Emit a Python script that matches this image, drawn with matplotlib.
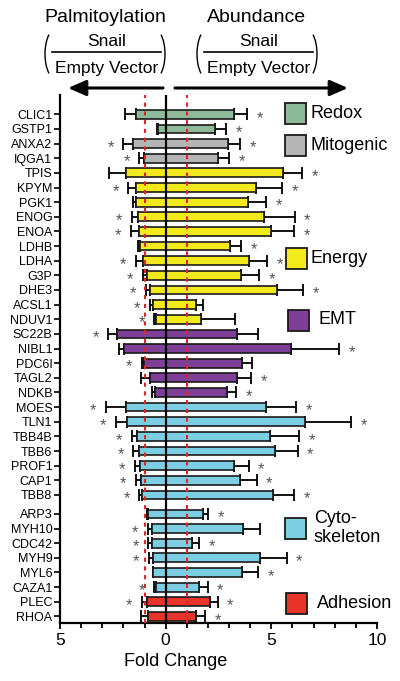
import matplotlib
matplotlib.use("Agg")
import matplotlib.pyplot as plt
from matplotlib.patches import Rectangle, Arc, FancyArrowPatch
from matplotlib.lines import Line2D
import numpy as np

plt.rcParams['font.family'] = ['Liberation Sans', 'DejaVu Sans']

# ---------------- data ----------------
proteins = ["CLIC1", "GSTP1", "ANXA2", "IQGA1", "TPIS", "KPYM", "PGK1", "ENOG", "ENOA", "LDHB",
            "LDHA", "G3P", "DHE3", "ACSL1", "NDUV1", "SC22B", "NIBL1", "PDC6I", "TAGL2", "NDKB",
            "MOES", "TLN1", "TBB4B", "TBB6", "PROF1", "CAP1", "TBB8", "ARP3", "MYH10", "CDC42",
            "MYH9", "MYL6", "CAZA1", "PLEC", "RHOA"]
categories = ["Redox"] * 2 + ["Mitogenic"] * 2 + ["Energy"] * 11 + ["EMT"] * 5 + \
             ["Cytoskeleton"] * 13 + ["Adhesion"] * 2

palm = [1.39, 0.35, 1.53, 1.03, 1.88, 1.39, 1.39, 1.31, 1.25, 1.22,
        1.09, 0.90, 0.74, 0.62, 0.46, 2.32, 1.98, 1.03, 0.74, 0.51,
        1.86, 1.82, 1.35, 1.25, 1.22, 1.18, 1.14, 0.82, 0.66, 0.66,
        0.62, 0.59, 0.44, 0.90, 0.85]
palm_err = [0.54, 0.05, 0.47, 0.22, 0.79, 0.38, 0.17, 0.30, 0.39, 0.11,
            0.32, 0.19, 0.21, 0.12, 0.08, 0.40, 0.22, 0.11, 0.43, 0.16,
            0.97, 0.54, 0.26, 0.28, 0.23, 0.23, 0.11, 0.05, 0.19, 0.16,
            0.17, 0.00, 0.10, 0.24, 0.32]
palm_sig = [0, 0, 1, 1, 0, 1, 0, 1, 1, 0,
            1, 1, 1, 1, 1, 1, 0, 1, 0, 0,
            1, 1, 1, 1, 1, 1, 1, 0, 1, 1,
            1, 0, 1, 1, 0]

abund = [3.25, 2.35, 2.94, 2.46, 5.55, 4.27, 3.89, 4.63, 4.99, 3.05,
         3.92, 3.55, 5.26, 1.44, 1.66, 3.36, 5.92, 3.60, 3.36, 2.89,
         4.75, 6.60, 4.96, 5.15, 3.25, 3.52, 5.07, 1.78, 3.64, 1.26,
         4.46, 3.63, 1.58, 2.10, 1.45]
abund_err = [0.62, 0.51, 0.58, 0.55, 0.90, 1.23, 0.86, 1.47, 1.09, 0.52,
             0.87, 0.89, 1.26, 0.34, 1.62, 1.03, 2.29, 0.50, 0.67, 0.43,
             1.42, 2.17, 1.36, 1.09, 0.67, 0.78, 1.01, 0.24, 0.82, 0.32,
             1.26, 0.76, 0.41, 0.36, 0.41]
abund_sig = [1, 1, 1, 1, 1, 1, 1, 1, 1, 1,
             1, 1, 1, 0, 0, 0, 1, 0, 1, 1,
             1, 1, 1, 1, 1, 1, 1, 1, 0, 1,
             1, 1, 1, 1, 1]

colors = {"Redox": "#8dbb99", "Mitogenic": "#b5b5b5", "Energy": "#f3ea1c",
          "EMT": "#7d3f97", "Cytoskeleton": "#7ccfe2", "Adhesion": "#e8332b"}
legend_labels = ["Redox", "Mitogenic", "Energy", "EMT", "Cyto-\nskeleton", "Adhesion"]
legend_keys = ["Redox", "Mitogenic", "Energy", "EMT", "Cytoskeleton", "Adhesion"]

xticks = [-5, 0, 5, 10]
xticklabels = ["5", "0", "5", "10"]

# ---------------- figure ----------------
W, H = 400, 681
fig = plt.figure(figsize=(W / 100, H / 100), dpi=100)
fx = lambda px: px / W
fy = lambda py: 1 - py / H
ax = fig.add_axes([fx(60), fy(623), (377 - 60) / W, (623 - 95) / H])

n = len(proteins)
gap_after = proteins.index("TBB8")
ypos = np.array([i + (0.3 if i > gap_after else 0.0) for i in range(n)])
bar_h = 0.6
edge = "#1a1a1a"

for i in range(n):
    c = colors[categories[i]]
    y = ypos[i]
    ax.barh(y, -palm[i], height=bar_h, left=0, color=c, edgecolor=edge, linewidth=1.2, zorder=2)
    ax.barh(y, abund[i], height=bar_h, left=0, color=c, edgecolor=edge, linewidth=1.2, zorder=2)
    ax.errorbar(-palm[i], y, xerr=[[palm_err[i]], [0]], fmt='none', ecolor='black',
                elinewidth=1.3, capsize=4, capthick=1.3, zorder=1.5)
    ax.errorbar(abund[i], y, xerr=[[0], [abund_err[i]]], fmt='none', ecolor='black',
                elinewidth=1.3, capsize=4, capthick=1.3, zorder=1.5)
    if palm_sig[i]:
        ax.annotate("*", (-(palm[i] + palm_err[i]) - 0.6, y), xytext=(0, -6),
                    textcoords='offset points', ha='center', va='baseline',
                    fontsize=12, color='#555555', zorder=5)
    if abund_sig[i]:
        ax.annotate("*", (abund[i] + abund_err[i] + 0.6, y), xytext=(0, -6),
                    textcoords='offset points', ha='center', va='baseline',
                    fontsize=12, color='#555555', zorder=5)

ax.axvline(0, color='black', lw=1.6, zorder=3)
for xv in (-1, 1):
    ax.axvline(xv, color='#e8202a', lw=1.5, dashes=(2.0, 2.2), zorder=4)

ax.set_xlim(-5, 10)
ax.set_ylim(ypos[-1] + 0.45, -1.32)
ax.set_yticks(ypos)
ax.set_yticklabels(proteins, fontsize=9)
ax.set_xticks(xticks)
ax.set_xticklabels(xticklabels, fontsize=12.5)
ax.set_xticks(np.arange(-5, 11, 1), minor=True)
ax.tick_params(axis='y', length=4, width=1.2, pad=1.5)
ax.tick_params(axis='x', which='major', length=4.5, width=1.3, pad=3)
ax.tick_params(axis='x', which='minor', length=3.5, width=1.3)
for s in ("top", "right"):
    ax.spines[s].set_visible(False)
for s in ("left", "bottom"):
    ax.spines[s].set_linewidth(1.6)

fig.text(fx(176), fy(662), "Fold Change", ha='center', va='center', fontsize=13)

# ---------------- legend ----------------
leg_y = [113.5, 145, 258, 320, 528, 603]
leg_x = [285, 285, 286, 288, 285, 286]
leg_tx = [310, 310, 310, 319, 314, 317]
for lab, key, cy, lx, tx in zip(legend_labels, legend_keys, leg_y, leg_x, leg_tx):
    fig.patches.append(Rectangle((fx(lx), fy(cy + 10.5)), 21 / W, 21 / H, transform=fig.transFigure,
                                 facecolor=colors[key], edgecolor=edge, linewidth=1.3))
    fig.text(fx(tx), fy(cy), lab, ha='left', va='center', fontsize=13, linespacing=1.1)

# ---------------- header ----------------
for cx, title in ((105, "Palmitoylation"), (257, "Abundance")):
    fig.text(fx(cx), fy(17), title, ha='center', va='center', fontsize=14)
for cx, x0, x1, pl, pr in ((106.5, 52, 161, 45, 165), (258.5, 204, 313, 197, 317)):
    fig.text(fx(cx), fy(42), "Snail", ha='center', va='center', fontsize=12.5)
    fig.text(fx(cx), fy(68), "Empty Vector", ha='center', va='center', fontsize=12.5)
    fig.add_artist(Line2D([fx(x0), fx(x1)], [fy(52), fy(52)], transform=fig.transFigure,
                          color='black', lw=1.2))
    # parentheses
    a, b = 12, 26
    fig.add_artist(Arc((fx(pl + a), fy(54)), 2 * a / W, 2 * b / H, theta1=125, theta2=235,
                       transform=fig.transFigure, color='black', lw=1.0))
    fig.add_artist(Arc((fx(pr - a), fy(54)), 2 * a / W, 2 * b / H, theta1=-55, theta2=55,
                       transform=fig.transFigure, color='black', lw=1.0))

for xa, xb in ((163, 68), (175, 348)):
    fig.add_artist(FancyArrowPatch((fx(xa), fy(88)), (fx(xb), fy(88)), transform=fig.transFigure,
                                   arrowstyle='-|>,head_length=1.08,head_width=0.47',
                                   mutation_scale=10, color='black', lw=2.2,
                                   shrinkA=0, shrinkB=0))

fig.savefig("out.png", dpi=100)
